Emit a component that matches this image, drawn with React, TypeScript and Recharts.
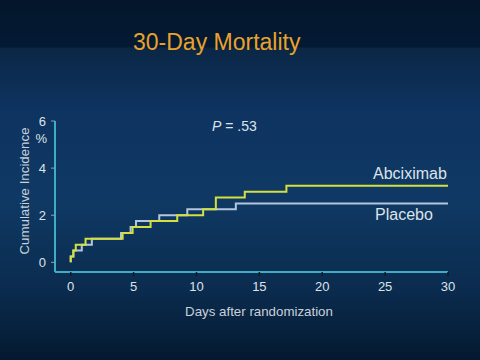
import React from "react";
import { LineChart, Line, XAxis, YAxis } from "recharts";

const abcDays = [0, 0, 0.21, 0.4, 1.18, 4.13, 4.92, 6.35, 8.47, 10.53, 11.54, 13.84, 17.15, 30];
const abcVals = [0, 0.25, 0.5, 0.75, 1.0, 1.25, 1.5, 1.75, 2.0, 2.25, 2.75, 3.0, 3.25, 3.25];

const placDays = [0, 0, 0.21, 0.88, 1.68, 4.0, 4.76, 5.19, 7.04, 9.27, 13.13, 30];
const placVals = [0, 0.25, 0.5, 0.75, 1.0, 1.25, 1.5, 1.75, 2.0, 2.25, 2.5, 2.5];

const xTicks = [0, 5, 10, 15, 20, 25, 30];
const yTicks = [0, 2, 4, 6];

const abcData = abcDays.map((d, i) => ({ day: d, value: abcVals[i] }));
const placData = placDays.map((d, i) => ({ day: d, value: placVals[i] }));

const FONT = "'Liberation Sans', Arial, sans-serif";
const TXT = "#dde3ea";

export default function App() {
  return (
    <div
      style={{
        position: "fixed",
        left: 0,
        top: 0,
        width: 480,
        height: 360,
        overflow: "hidden",
        fontFamily: FONT,
        background:
          "linear-gradient(to bottom, #03162b 0%, #041a33 13%, #0b2746 13.5%, #0e3360 30%, #0f3964 55%, #0b2c4f 80%, #041930 100%)",
      }}
    >
      <LineChart
        width={480}
        height={360}
        margin={{ top: 121, right: 32, left: 0, bottom: 58 }}
      >
        <XAxis
          type="number"
          dataKey="day"
          domain={[-1.25, 30]}
          ticks={xTicks}
          allowDataOverflow
          height={30}
          axisLine={{ stroke: "#3eaec6", strokeWidth: 2 }}
          tickLine={{ stroke: "#0c1a28", strokeWidth: 1.5 }}
          tickSize={4}
          tickMargin={6}
          tick={{ fill: TXT, fontSize: 13, fontFamily: FONT }}
        />
        <YAxis
          type="number"
          dataKey="value"
          domain={[-0.41, 6]}
          ticks={yTicks}
          allowDataOverflow
          width={55}
          axisLine={{ stroke: "#3eaec6", strokeWidth: 2 }}
          tickLine={{ stroke: "#8aa0b4", strokeWidth: 1 }}
          tickSize={4}
          tickMargin={5}
          tick={{ fill: TXT, fontSize: 13, fontFamily: FONT }}
        />
        <Line
          data={placData}
          dataKey="value"
          type="stepAfter"
          stroke="#b4c6dc"
          strokeWidth={2}
          dot={false}
          isAnimationActive={false}
        />
        <Line
          data={abcData}
          dataKey="value"
          type="stepAfter"
          stroke="#d4e040"
          strokeWidth={2}
          dot={false}
          isAnimationActive={false}
        />
      </LineChart>
      <svg
        width={480}
        height={360}
        style={{ position: "absolute", left: 0, top: 0, pointerEvents: "none" }}
      >
        <text x={133} y={50} fill="#e8a22e" fontSize={23} fontFamily={FONT}>
          30-Day Mortality
        </text>
        <text x={212} y={130.5} fill={TXT} fontSize={14} fontFamily={FONT}>
          <tspan fontStyle="italic">P</tspan> = .53
        </text>
        <text x={373} y={179} fill={TXT} fontSize={16} fontFamily={FONT}>
          Abciximab
        </text>
        <text x={375} y={220} fill={TXT} fontSize={16} fontFamily={FONT}>
          Placebo
        </text>
        <text x={47} y={143.3} fill={TXT} fontSize={13} fontFamily={FONT} textAnchor="end">
          %
        </text>
        <text x={259} y={316} fill="#c9d1db" fontSize={13.3} fontFamily={FONT} textAnchor="middle">
          Days after randomization
        </text>
        <text
          x={28.5}
          y={191}
          fill="#c9d1db"
          fontSize={13.3}
          fontFamily={FONT}
          textAnchor="middle"
          transform="rotate(-90, 28.5, 191)"
        >
          Cumulative Incidence
        </text>
      </svg>
    </div>
  );
}
